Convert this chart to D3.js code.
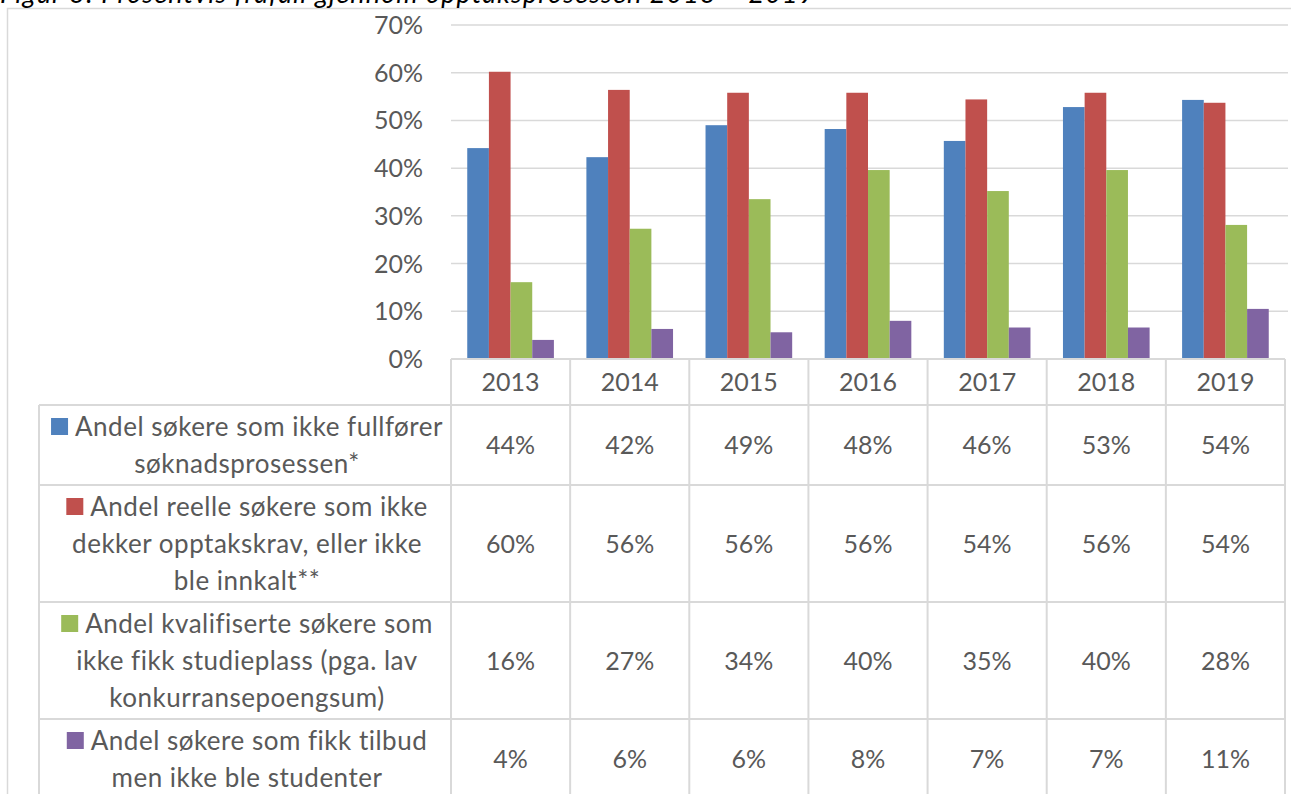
<!DOCTYPE html>
<html>
<head>
<meta charset="utf-8">
<script src="https://cdn.jsdelivr.net/npm/d3@7"></script>
<style>
  body { margin: 0; background: #fff; }
  text { font-family: Lato, "Open Sans", sans-serif; fill: #595959; }
</style>
</head>
<body>
<script>
// data
var years = ["2013", "2014", "2015", "2016", "2017", "2018", "2019"];
var seriesNames = ["fullforer", "reelle", "kvalifiserte", "tilbud"];
var seriesLabels = [
  ["Andel søkere som ikke fullfører", "søknadsprosessen*"],
  ["Andel reelle søkere som ikke", "dekker opptakskrav, eller ikke", "ble innkalt**"],
  ["Andel kvalifiserte søkere som", "ikke fikk studieplass (pga. lav", "konkurransepoengsum)"],
  ["Andel søkere som fikk tilbud", "men ikke ble studenter"]
];
var fullforer    = [44.2, 42.3, 49.0, 48.2, 45.7, 52.8, 54.3];
var reelle       = [60.2, 56.4, 55.8, 55.8, 54.4, 55.8, 53.7];
var kvalifiserte = [16.1, 27.3, 33.5, 39.6, 35.2, 39.6, 28.1];
var tilbud       = [4.0, 6.3, 5.6, 8.0, 6.6, 6.6, 10.5];
var yTicks = [0, 10, 20, 30, 40, 50, 60, 70];
var colors = ["#4f81bd", "#c0504d", "#9bbb59", "#8064a2"];
var title = "Figur 3: Prosentvis frafall gjennom opptaksprosessen 2013 – 2019";

var values = [fullforer, reelle, kvalifiserte, tilbud];

var width = 1291, height = 794;
var lineColor = "#d9d9d9";
var fontSize = 25;

var svg = d3.select("body").append("svg")
  .attr("width", width)
  .attr("height", height);

svg.append("rect").attr("width", width).attr("height", height).attr("fill", "#fff");

// outer chart frame
svg.append("rect")
  .attr("x", 7.5).attr("y", 8.5)
  .attr("width", 1300).attr("height", 900)
  .attr("fill", "none").attr("stroke", lineColor).attr("stroke-width", 1.5);

// title (cut off at top, as in the source)
svg.append("text")
  .attr("x", 0).attr("y", 3)
  .style("font-style", "italic")
  .style("font-size", "27px")
  .style("letter-spacing", "1.1px")
  .style("fill", "#000")
  .text(title);

// scales
var x = d3.scaleBand().domain(years).range([451, 1285]);
var y = d3.scaleLinear().domain([0, 70]).range([359, 25]);
var barW = x.bandwidth() / 5.5;
var x1 = d3.scaleBand().domain(seriesNames).range([0, barW * 4]);

// gridlines
svg.append("g").selectAll("line")
  .data(yTicks.slice(1))
  .enter().append("line")
  .attr("x1", 451).attr("x2", 1288)
  .attr("y1", function(d) { return y(d); })
  .attr("y2", function(d) { return y(d); })
  .attr("stroke", lineColor).attr("stroke-width", 1.5);

// y axis labels
svg.append("g").selectAll("text")
  .data(yTicks)
  .enter().append("text")
  .attr("x", 423)
  .attr("y", function(d) { return y(d); })
  .attr("dy", "0.36em")
  .attr("text-anchor", "end")
  .style("font-size", fontSize + "px")
  .text(function(d) { return d + "%"; });

// bars
var groups = svg.append("g").selectAll("g")
  .data(years)
  .enter().append("g")
  .attr("transform", function(d) { return "translate(" + (x(d) + barW * 0.75) + ",0)"; });

groups.selectAll("rect")
  .data(function(d, i) {
    return seriesNames.map(function(s, k) { return { s: s, k: k, v: values[k][i] }; });
  })
  .enter().append("rect")
  .attr("x", function(d) { return x1(d.s); })
  .attr("width", x1.bandwidth())
  .attr("y", function(d) { return y(d.v); })
  .attr("height", function(d) { return y(0) - y(d.v); })
  .attr("fill", function(d) { return colors[d.k]; });

// data table
var lineH = 37;
var headerTop = 359, headerBottom = 405;
var rowTops = [headerBottom];
seriesLabels.forEach(function(l) {
  rowTops.push(rowTops[rowTops.length - 1] + l.length * lineH + 6);
});
var labelLeft = 39, labelCenter = 247;

var table = svg.append("g");

// horizontal lines
table.append("line")
  .attr("x1", 451).attr("x2", 1285)
  .attr("y1", headerTop).attr("y2", headerTop)
  .attr("stroke", lineColor).attr("stroke-width", 2);
table.selectAll(".hl")
  .data(rowTops)
  .enter().append("line")
  .attr("class", "hl")
  .attr("x1", labelLeft).attr("x2", 1285)
  .attr("y1", function(d) { return d; })
  .attr("y2", function(d) { return d; })
  .attr("stroke", lineColor).attr("stroke-width", 2);

// vertical lines
var bounds = years.map(function(d) { return x(d); }).concat([x.range()[1]]);
table.selectAll(".vl")
  .data(bounds)
  .enter().append("line")
  .attr("class", "vl")
  .attr("x1", function(d) { return d; })
  .attr("x2", function(d) { return d; })
  .attr("y1", headerTop).attr("y2", height + 10)
  .attr("stroke", lineColor).attr("stroke-width", 2);
table.append("line")
  .attr("x1", labelLeft).attr("x2", labelLeft)
  .attr("y1", headerBottom).attr("y2", height + 10)
  .attr("stroke", lineColor).attr("stroke-width", 2);

// year header
table.selectAll(".yr")
  .data(years)
  .enter().append("text")
  .attr("class", "yr")
  .attr("x", function(d) { return x(d) + x.bandwidth() / 2; })
  .attr("y", (headerTop + headerBottom) / 2)
  .attr("dy", "0.36em")
  .attr("text-anchor", "middle")
  .style("font-size", fontSize + "px")
  .text(function(d) { return d; });

// rows
seriesLabels.forEach(function(lines, k) {
  var top = rowTops[k], bottom = rowTops[k + 1];
  var mid = (top + bottom) / 2;
  var first = mid - (lines.length - 1) * lineH / 2;

  lines.forEach(function(t, j) {
    var txt = table.append("text")
      .attr("y", first + j * lineH)
      .attr("dy", "0.36em")
      .style("font-size", "26px")
      .style("letter-spacing", "0.5px")
      .text(t);
    if (j === 0) {
      var w = txt.node().getComputedTextLength();
      var total = 17 + 7 + w;
      var start = labelCenter - total / 2;
      table.append("rect")
        .attr("x", start)
        .attr("y", first - 8.5)
        .attr("width", 17).attr("height", 17)
        .attr("fill", colors[k]);
      txt.attr("x", start + 24);
    } else {
      txt.attr("x", labelCenter).attr("text-anchor", "middle");
    }
  });

  table.selectAll(".v" + k)
    .data(values[k])
    .enter().append("text")
    .attr("x", function(d, i) { return x(years[i]) + x.bandwidth() / 2; })
    .attr("y", mid)
    .attr("dy", "0.36em")
    .attr("text-anchor", "middle")
    .style("font-size", fontSize + "px")
    .text(function(d) { return Math.round(d) + "%"; });
});
</script>
</body>
</html>
